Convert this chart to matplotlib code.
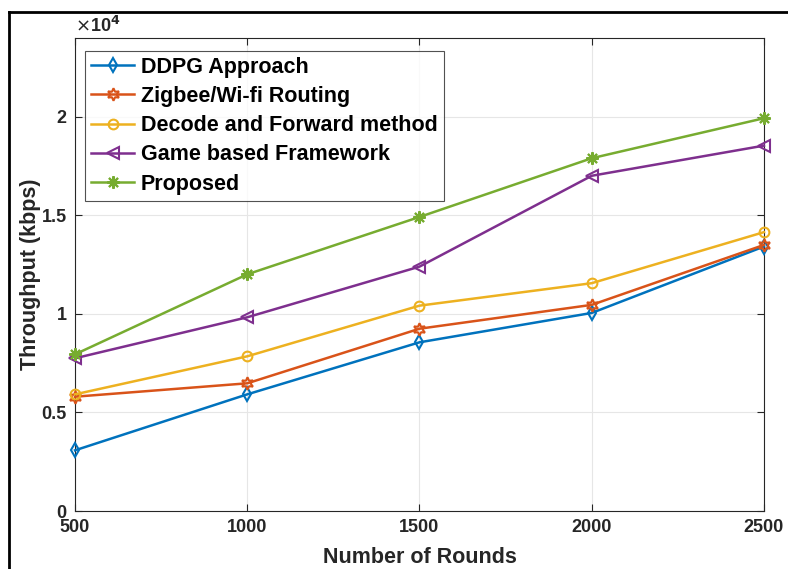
import numpy as np
import matplotlib.pyplot as plt
from matplotlib.ticker import FuncFormatter

plt.rcParams["font.family"] = ["Liberation Sans", "DejaVu Sans"]

rounds = [500, 1000, 1500, 2000, 2500]
ddpg = [3080, 5920, 8560, 10050, 13420]
zigbee = [5800, 6480, 9250, 10460, 13500]
decode_fwd = [5920, 7850, 10420, 11560, 14150]
game = [7750, 9830, 12400, 17010, 18540]
proposed = [7950, 12010, 14920, 17900, 19930]

labels = ["DDPG Approach", "Zigbee/Wi-fi Routing", "Decode and Forward method",
          "Game based Framework", "Proposed"]
yticks = [0, 5000, 10000, 15000, 20000]

fig = plt.figure(figsize=(7.88, 5.69), dpi=100)
ax = fig.add_axes([0.0952, 0.1019, 0.8743, 0.8313])

# matlab default colours and markers
series = [
    (ddpg, "#0072BD", "d", 7),
    (zigbee, "#D95319", (6, 1, 0), 9),
    (decode_fwd, "#EDB120", "o", 7),
    (game, "#7E2F8E", "<", 8),
    (proposed, "#77AC30", (8, 2, 0), 9),
]
for (vals, col, mk, ms), lab in zip(series, labels):
    ax.plot(rounds, vals, color=col, marker=mk, markersize=ms,
            markerfacecolor="none", markeredgecolor=col, markeredgewidth=1.5,
            linewidth=1.8, label=lab, clip_on=False, zorder=3)

ax.set_xlim(500, 2500)
ax.set_ylim(0, 24000)
ax.set_xticks(rounds)
ax.set_yticks(yticks)
ax.yaxis.set_major_formatter(FuncFormatter(lambda v, p: "%g" % (v / 1e4)))
ax.grid(True, color="#e6e6e6", linewidth=0.8)
ax.set_axisbelow(True)
ax.tick_params(direction="in", top=True, right=True, length=5, width=0.8,
               color="#262626", labelsize=13, pad=6)
for t in ax.get_xticklabels() + ax.get_yticklabels():
    t.set_fontweight("bold")
    t.set_color("#262626")
for s in ax.spines.values():
    s.set_color("#262626")
    s.set_linewidth(0.8)

ax.set_xlabel("Number of Rounds", fontsize=15.5, fontweight="bold", color="#262626", labelpad=8)
ax.set_ylabel("Throughput (kbps)", fontsize=15.5, fontweight="bold", color="#262626", labelpad=0)
ax.text(0.0, 1.004, r"$\times$10$^{\mathbf{4}}$", transform=ax.transAxes, fontsize=13,
        fontweight="bold", color="#262626", ha="left", va="bottom")

leg = ax.legend(loc="upper left", bbox_to_anchor=(0.015, 0.973),
                prop={"weight": "bold", "size": 15.5}, frameon=True, fancybox=False,
                handlelength=2.0, handletextpad=0.3, borderpad=0.28, labelspacing=0.38,
                borderaxespad=0)
leg.get_frame().set_edgecolor("#262626")
leg.get_frame().set_linewidth(0.8)

# outer frame lines of the cropped figure
fig.add_artist(plt.Line2D([0.011, 0.011], [0, 0.979], color="black", linewidth=2,
                          transform=fig.transFigure))
fig.add_artist(plt.Line2D([0.011, 1.0], [0.979, 0.979], color="black", linewidth=2,
                          transform=fig.transFigure))

fig.savefig("out.png", dpi=100)
